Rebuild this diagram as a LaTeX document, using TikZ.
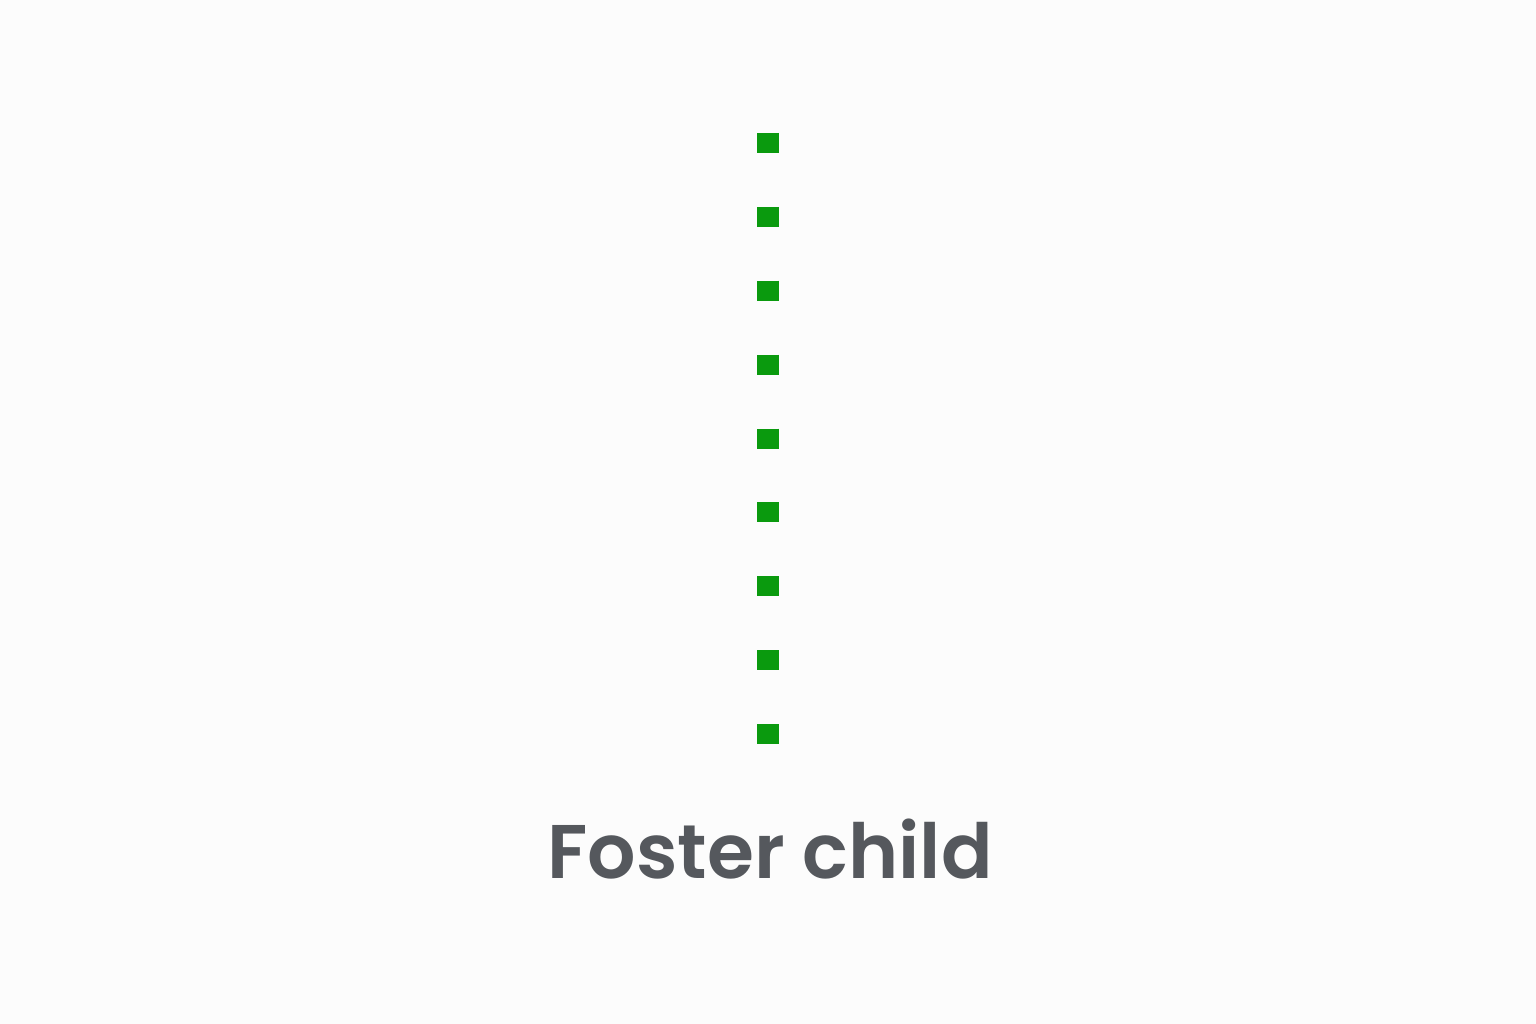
\documentclass[tikz,border=0pt]{standalone}
\usepackage{fontspec}
\setmainfont{Poppins}[UprightFont=* SemiBold]
\definecolor{bgc}{HTML}{FCFCFC}
\definecolor{dotgreen}{HTML}{0A9A0E}
\definecolor{labelgray}{HTML}{55585D}
\tikzset{
  dotline/.style={draw=dotgreen, line width=22pt, dash pattern=on 20pt off 53.875pt},
  caption/.style={text=labelgray, font=\fontsize{76}{80}\selectfont, inner sep=0pt, anchor=base}
}
\begin{document}
\begin{tikzpicture}[x=1pt,y=-1pt]
\fill[bgc] (0,0) rectangle (1536,1024);
\useasboundingbox (0,0) rectangle (1536,1024);
\coordinate (top) at (768,133);
\coordinate (bot) at (768,744);
\draw[dotline] (top) -- (bot);
\node[caption] (lbl) at (770,878) {Foster child};
\end{tikzpicture}
\end{document}
